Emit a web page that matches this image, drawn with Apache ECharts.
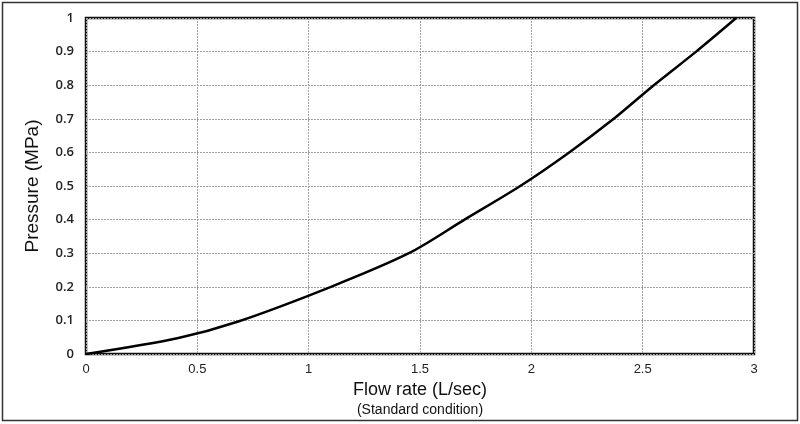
<!DOCTYPE html>
<html>
<head>
<meta charset="utf-8">
<script src="https://cdn.jsdelivr.net/npm/echarts@6/dist/echarts.min.js"></script>
<style>
  html, body { margin: 0; padding: 0; background: #fff; }
  #chart { width: 800px; height: 424px; }
</style>
</head>
<body>
<div id="chart"></div>
<script>
// flow rate (L/sec) vs pressure (MPa)
const flowRate = [0, 0.41, 0.68, 1.1, 1.45, 1.7, 1.95, 2.17, 2.37, 2.55, 2.74, 2.92]
const pressure = [0, 0.047, 0.096, 0.2, 0.3, 0.4, 0.5, 0.6, 0.7, 0.8, 0.9, 1.0]

const xTitle = 'Flow rate (L/sec)'
const xSubtitle = '(Standard condition)'
const yTitle = 'Pressure (MPa)'

const chart = echarts.init(document.getElementById('chart'), null, { renderer: 'canvas' })

const gridLine = { show: true, lineStyle: { color: '#a0a0a0', width: 1, type: [2, 1] } }

chart.setOption({
  animation: false,
  grid: {
    left: 86, top: 18, right: 46, bottom: 70,
    show: true, borderColor: '#111', borderWidth: 2.5, backgroundColor: '#fff',
  },
  xAxis: {
    type: 'value', min: 0, max: 3, interval: 0.5,
    axisLine: { show: false },
    axisTick: { show: false },
    splitLine: gridLine,
    axisLabel: { color: '#222', fontFamily: 'Liberation Sans', fontSize: 13, margin: 9 },
    name: '{a|' + xTitle + '}\n{b|' + xSubtitle + '}',
    nameLocation: 'middle',
    nameGap: 24,
    nameTextStyle: {
      rich: {
        a: { fontFamily: 'Liberation Sans', fontSize: 18, color: '#111', lineHeight: 23 },
        b: { fontFamily: 'Liberation Sans', fontSize: 14, color: '#111', lineHeight: 18 },
      },
      verticalAlign: 'top',
    },
  },
  yAxis: {
    type: 'value', min: 0, max: 1, interval: 0.1,
    axisLine: { show: false },
    axisTick: { show: false },
    splitLine: gridLine,
    axisLabel: { color: '#222', fontFamily: 'Open Sans', fontWeight: 600, fontSize: 13, margin: 12 },
    name: yTitle,
    nameLocation: 'middle',
    nameGap: 44,
    nameTextStyle: { fontFamily: 'Liberation Sans', fontSize: 19, color: '#111' },
  },
  series: [{
    type: 'line',
    data: flowRate.map((x, i) => [x, pressure[i]]),
    showSymbol: false,
    smooth: 0.3,
    lineStyle: { color: '#000', width: 2.5 },
  }],
  graphic: [{
    type: 'rect',
    shape: { x: 2.5, y: 2.5, width: 795, height: 418 },
    style: { fill: 'none', stroke: '#333', lineWidth: 1.5 },
    z: 100,
  }],
})
</script>
</body>
</html>
